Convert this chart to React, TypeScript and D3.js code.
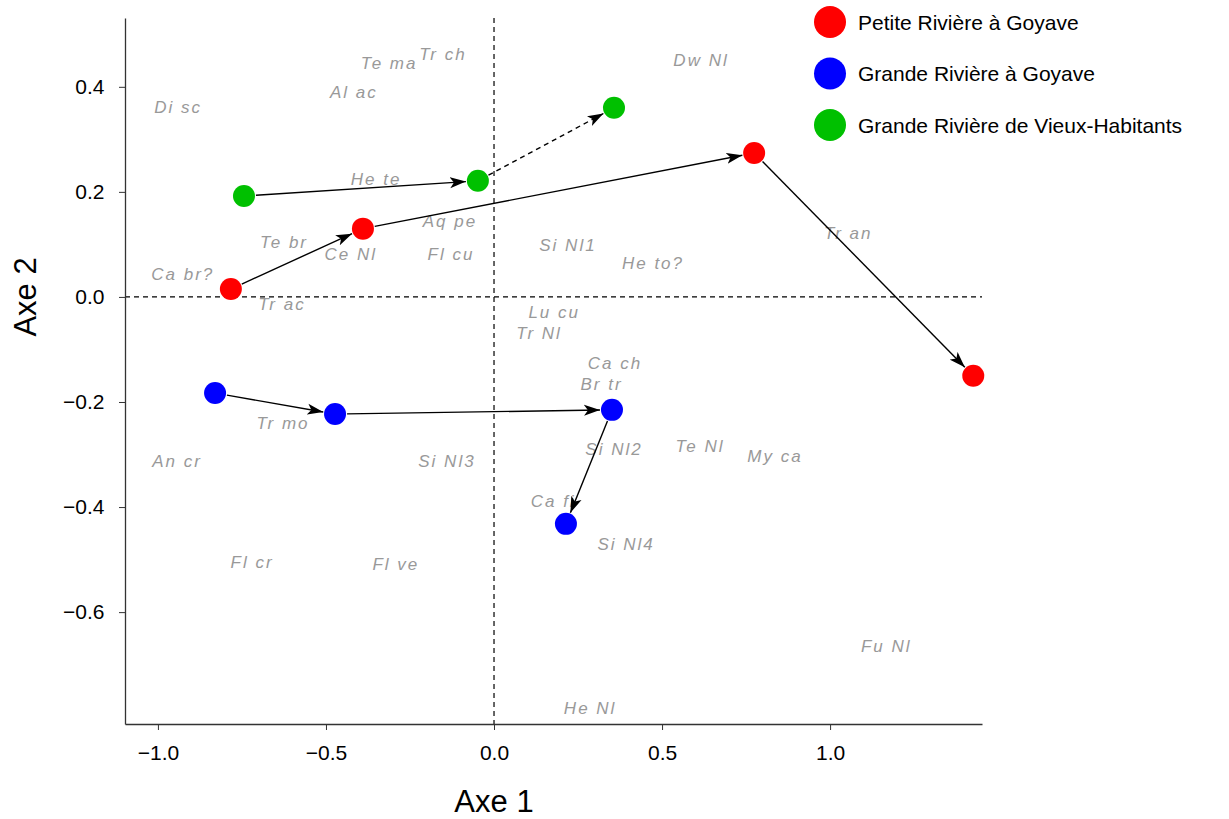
import { useRef, useEffect } from "react";
import * as d3 from "d3";

const WIDTH = 1229;
const HEIGHT = 819;

const RIVERS = ["Petite Rivière à Goyave", "Grande Rivière à Goyave", "Grande Rivière de Vieux-Habitants"];
const RIVER_COLORS = ["#ff0000", "#0000ff", "#00c000"];

// site trajectories per river (Axe 1, Axe 2)
const RED_X = [-0.783, -0.39, 0.774, 1.426];
const RED_Y = [0.015, 0.13, 0.274, -0.15];
const BLUE_X = [-0.83, -0.473, 0.351, 0.214];
const BLUE_Y = [-0.183, -0.223, -0.215, -0.432];
const GREEN_X = [-0.744, -0.048, 0.357];
const GREEN_Y = [0.192, 0.221, 0.36];
const GREEN_DASHED = [false, true];

const TAXA = [
  "Di sc", "Te ma", "Tr ch", "Al ac", "He te", "Te br", "Ce Nl", "Aq pe", "Fl cu", "Ca br?",
  "Tr ac", "Dw Nl", "Si Nl1", "He to?", "Tr an", "Lu cu", "Tr Nl", "Ca ch", "Br tr", "Tr mo",
  "An cr", "Si Nl3", "Si Nl2", "Te Nl", "My ca", "Ca fi", "Si Nl4", "Fl cr", "Fl ve", "Fu Nl", "He Nl",
];
const TAXA_X = [
  -0.94, -0.312, -0.152, -0.417, -0.351, -0.625, -0.426, -0.131, -0.128, -0.926,
  -0.631, 0.616, 0.22, 0.473, 1.054, 0.179, 0.134, 0.36, 0.32, -0.628,
  -0.943, -0.14, 0.357, 0.613, 0.836, 0.176, 0.393, -0.72, -0.292, 1.167, 0.286,
];
const TAXA_Y = [
  0.36, 0.444, 0.461, 0.389, 0.223, 0.103, 0.08, 0.143, 0.08, 0.042,
  -0.015, 0.451, 0.097, 0.063, 0.12, -0.03, -0.07, -0.126, -0.166, -0.24,
  -0.314, -0.314, -0.29, -0.284, -0.303, -0.389, -0.472, -0.505, -0.51, -0.665, -0.783,
];

const X_TICKS = [-1.0, -0.5, 0.0, 0.5, 1.0];
const Y_TICKS = [0.4, 0.2, 0.0, -0.2, -0.4, -0.6];

const FONT = "'Liberation Sans', Arial, sans-serif";
const R = 11;

export default function App() {
  const svgRef = useRef<SVGSVGElement>(null);

  useEffect(() => {
    const svg = d3.select(svgRef.current);
    svg.selectAll("*").remove();

    const left = 125, right = 982, top = 18, bottom = 724;
    const x = d3.scaleLinear().domain([-1.098, 1.452]).range([left, right]);
    const y = d3.scaleLinear().domain([-0.813, 0.531]).range([bottom, top]);

    svg.append("defs").append("marker")
      .attr("id", "arrow")
      .attr("viewBox", "0 0 16 12")
      .attr("refX", 16)
      .attr("refY", 6)
      .attr("markerWidth", 16)
      .attr("markerHeight", 12)
      .attr("markerUnits", "userSpaceOnUse")
      .attr("orient", "auto")
      .append("path")
      .attr("d", "M0,0.5 L16,6 L0,11.5 L4,6 Z")
      .attr("fill", "#000");

    // reference lines through origin
    svg.append("line")
      .attr("x1", left).attr("x2", right)
      .attr("y1", y(0)).attr("y2", y(0))
      .attr("stroke", "#000").attr("stroke-width", 1.2)
      .attr("stroke-dasharray", "5,4");
    svg.append("line")
      .attr("x1", x(0)).attr("x2", x(0))
      .attr("y1", top).attr("y2", bottom)
      .attr("stroke", "#000").attr("stroke-width", 1.2)
      .attr("stroke-dasharray", "5,4");

    // axes
    const xAxis = svg.append("g")
      .attr("transform", `translate(0,${bottom})`)
      .call(d3.axisBottom(x).tickValues(X_TICKS).tickFormat(d3.format(".1f")).tickSize(6).tickSizeOuter(0));
    const yAxis = svg.append("g")
      .attr("transform", `translate(${left},0)`)
      .call(d3.axisLeft(y).tickValues(Y_TICKS).tickFormat(d3.format(".1f")).tickSize(6).tickSizeOuter(0));
    [xAxis, yAxis].forEach((g) => {
      g.select(".domain").attr("stroke", "#333").attr("stroke-width", 1.3);
      g.selectAll(".tick line").attr("stroke", "#333");
      g.selectAll(".tick text").attr("font-family", FONT).attr("font-size", 21).attr("fill", "#000");
    });
    xAxis.selectAll(".tick text").attr("dy", "1.3em");
    yAxis.selectAll(".tick text").attr("dx", "-0.55em");

    svg.append("text")
      .attr("x", x(0)).attr("y", 812)
      .attr("text-anchor", "middle")
      .attr("font-family", FONT).attr("font-size", 31)
      .text("Axe 1");
    svg.append("text")
      .attr("transform", `translate(36,${y(0)}) rotate(-90)`)
      .attr("text-anchor", "middle")
      .attr("font-family", FONT).attr("font-size", 31)
      .text("Axe 2");

    // taxa labels
    svg.append("g").selectAll("text")
      .data(TAXA)
      .enter()
      .append("text")
      .attr("x", (_d, i) => x(TAXA_X[i]))
      .attr("y", (_d, i) => y(TAXA_Y[i]))
      .attr("text-anchor", "middle")
      .attr("dominant-baseline", "central")
      .attr("font-family", FONT)
      .attr("font-style", "italic")
      .attr("font-size", 17)
      .attr("letter-spacing", "2px")
      .attr("fill", "#999")
      .text((d) => d);

    // trajectories
    const series = [
      { xs: RED_X, ys: RED_Y, color: RIVER_COLORS[0], dashed: RED_X.slice(1).map(() => false) },
      { xs: BLUE_X, ys: BLUE_Y, color: RIVER_COLORS[1], dashed: BLUE_X.slice(1).map(() => false) },
      { xs: GREEN_X, ys: GREEN_Y, color: RIVER_COLORS[2], dashed: GREEN_DASHED },
    ];

    series.forEach((s) => {
      for (let i = 0; i < s.xs.length - 1; i++) {
        const x1 = x(s.xs[i]), y1 = y(s.ys[i]);
        const x2 = x(s.xs[i + 1]), y2 = y(s.ys[i + 1]);
        const len = Math.hypot(x2 - x1, y2 - y1);
        const ux = (x2 - x1) / len, uy = (y2 - y1) / len;
        svg.append("line")
          .attr("x1", x1 + ux * (R + 1)).attr("y1", y1 + uy * (R + 1))
          .attr("x2", x2 - ux * (R + 1)).attr("y2", y2 - uy * (R + 1))
          .attr("stroke", "#000")
          .attr("stroke-width", 1.4)
          .attr("stroke-dasharray", s.dashed[i] ? "5,4" : null)
          .attr("marker-end", "url(#arrow)");
      }
    });

    series.forEach((s) => {
      svg.append("g").selectAll("circle")
        .data(s.xs)
        .enter()
        .append("circle")
        .attr("cx", (d) => x(d))
        .attr("cy", (_d, i) => y(s.ys[i]))
        .attr("r", R)
        .attr("fill", s.color);
    });

    // legend
    const legend = svg.append("g")
      .selectAll("g")
      .data(RIVERS)
      .enter()
      .append("g")
      .attr("transform", (_d, i) => `translate(830,${22 + i * 51.5})`);
    legend.append("circle")
      .attr("r", 16)
      .attr("fill", (_d, i) => RIVER_COLORS[i]);
    legend.append("text")
      .attr("x", 28)
      .attr("dominant-baseline", "central")
      .attr("font-family", FONT)
      .attr("font-size", 21)
      .attr("fill", "#000")
      .text((d) => d);
  }, []);

  return (
    <svg
      ref={svgRef}
      width={WIDTH}
      height={HEIGHT}
      style={{ position: "absolute", left: 0, top: 0, background: "#fff" }}
    />
  );
}
